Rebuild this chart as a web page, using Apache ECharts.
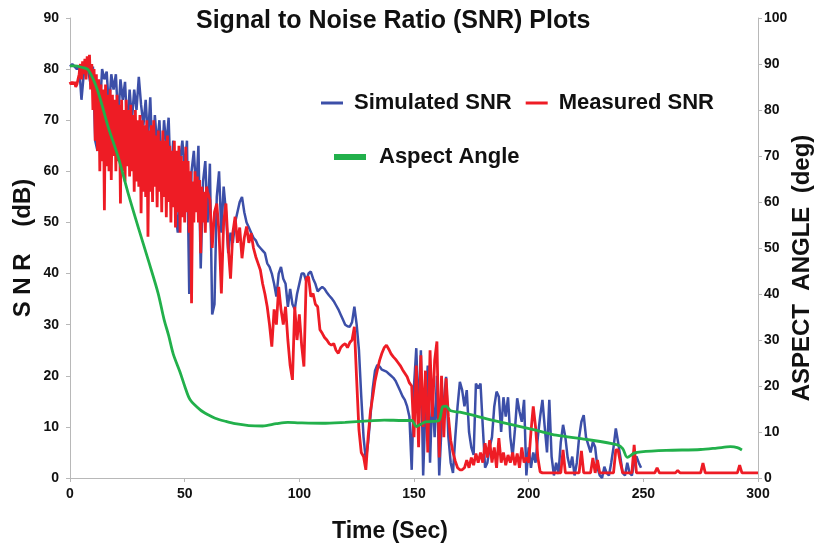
<!DOCTYPE html>
<html>
<head>
<meta charset="utf-8">
<title>SNR Plots</title>
<script src="https://cdn.jsdelivr.net/npm/echarts@6/dist/echarts.min.js"></script>
<style>
  html, body { margin: 0; padding: 0; background: #fff; }
  #chart { width: 818px; height: 550px; }
</style>
</head>
<body>
<div id="chart"></div>
<script>
// simulated SNR (dB), one value per second from t = 0
const simStep = 1
const simulatedSnr = [
  80.5, 81, 80.5, 80, 80.5, 74, 79, 80, 79.5, 77,
  80.5, 66, 64, 72, 80, 78, 79.5, 72, 79, 76,
  79, 70, 78, 74, 77.5, 68, 76, 70, 76, 72,
  78.5, 73, 69, 74, 66, 74.5, 62, 71, 65, 70,
  60, 70, 65, 70.5, 57, 66, 52, 48, 62, 66,
  60, 66, 36, 60, 64, 56, 65, 41, 58, 62,
  50, 61.5, 32, 34, 55, 60, 48, 57, 52, 44,
  48, 46, 50, 52, 54, 55, 52, 50, 49, 48,
  47, 46.5, 45.5, 45, 44.5, 44, 42, 41.3, 40, 38,
  35.5, 40, 41.3, 39, 38, 33.5, 37, 34, 33, 36,
  38, 40, 40, 38.5, 40, 40.4, 39, 38, 36.5, 37,
  37.4, 37, 36.3, 35.7, 35.2, 34.6, 33.8, 33, 32, 31,
  30, 29.7, 29.6, 30.5, 33.5, 30, 25, 16, 8, 3.5,
  7, 12, 17.5, 21, 22.1, 21.8, 21.2, 21, 20.8, 20.4,
  20, 19.6, 19, 18, 17, 16, 15.3, 14, 12, 1.6,
  18, 25.4, 12, 25, 0.5, 14, 22, 3, 17, 8,
  20, 0.5, 10, 15, 19.8, 8, 3, 1, 8, 14,
  18.8, 17.2, 14, 17.2, 9, 6, 4.5, 18.5, 17.5, 18.5,
  10, 2, 3, 6, 8, 14, 16.9, 15.9, 9, 15.8,
  12, 15.8, 8, 4.2, 9.4, 15.6, 13, 11, 15.3, 0.5,
  6, 2, 5, 3, 8, 12, 15.3, 10, 5, 15.3,
  4.2, 0.5, 3, 0.8, 7, 10.4, 8, 4, 2, 4.2,
  0.5, 3, 8, 11, 12.3, 8, 6.5, 5, 7.1, 6,
  2, 0.5, 0, 2.2, 1, 0.5, 3, 6, 9.7, 7,
  4, 1, 0.5, 3, 1, 0.5, 3, 4.2, 3, 2
]

// measured SNR (dB): every half second for the first minute ...
const measStepFine = 0.5
const measuredSnrFine = [
  77.5, 77, 77.5, 77, 77.5, 76.5, 77, 78, 79, 81, 78, 81.5, 79, 82, 78, 82.5, 80, 82.8, 76, 81,
  72, 80, 66, 79, 64, 78, 60, 77, 62, 76, 52.4, 77, 61, 75, 60, 76, 58.3, 75, 63, 74,
  60, 75, 62, 73, 53.7, 74, 60, 72, 58, 74, 61, 72, 59, 73, 60, 71, 56, 72, 58, 70,
  57, 71, 51.8, 70, 56, 69, 55, 70, 47.2, 68, 56, 69, 54, 70, 57, 67, 53, 68, 56, 66,
  52, 68, 55, 66, 51, 67, 54, 65, 50, 64, 53, 66, 49, 64, 52, 65, 48, 63, 51, 62,
  50, 64.8, 52, 62, 48, 60, 34.2, 58, 50, 60, 52, 59, 50, 58.3, 44, 57, 50, 56, 48, 57
]
// ... then once a second from t = 60 s to 300 s
const measStart = 60
const measStep = 1
const measuredSnr = [
  56, 54.4, 45, 52, 53.7, 48, 36.1, 50, 53.7, 45,
  39, 48, 51.1, 46, 49, 43, 47, 49.2, 46, 47.9,
  45, 43.3, 42, 40.7, 38, 36, 33.5, 30, 25.7, 33,
  30, 37.4, 33, 30, 33.5, 27, 22, 19.2, 33.5, 27,
  32, 26, 21.8, 39, 39.4, 35.5, 36.1, 34, 33.5, 29,
  28.3, 27.5, 27, 26.3, 26, 26.3, 25, 24.4, 25.5, 26,
  26.3, 25.5, 26.5, 27, 29.6, 19.2, 9.4, 5, 4.2, 1.6,
  8.1, 13, 15.9, 19, 21.1, 23, 24.4, 25.5, 26, 25.2,
  24.3, 23.7, 23.2, 22.6, 22, 21.2, 20.5, 19.8, 18.6, 18,
  8, 22, 6, 24, 10, 21, 5, 25, 12, 23,
  26.7, 4, 20, 8, 19.5, 12, 7.4, 5, 3.3, 2,
  1.6, 1.6, 2, 3.5, 2, 4, 2.5, 4.8, 3, 5,
  3, 6.8, 4, 7.4, 3, 6, 2, 7.8, 3, 5,
  2.5, 4.5, 3, 5, 2.5, 4.8, 2, 6, 3, 4,
  3, 9, 14, 10, 4, 1.2, 1, 1, 1, 1,
  1, 1, 1, 1, 1, 5.5, 1, 1, 1, 1,
  1, 1, 1, 5.3, 1, 1, 1, 1, 3.9, 1,
  3.5, 1, 1, 1, 1, 1, 1, 1, 5.5, 5.5,
  3, 1, 1, 1, 1, 1, 6.5, 1, 1, 1,
  1, 1, 1, 1, 1, 1, 2, 1, 1, 1,
  1, 1, 1, 1, 1, 1.5, 1, 1, 1, 1,
  1, 1, 1, 1, 1, 1, 2.9, 1, 1, 1,
  1, 1, 1, 1, 1, 1, 1, 1, 1, 1,
  1, 1, 2.5, 1, 1, 1, 1, 1, 1, 1,
  1
]

// aspect angle (deg) against time (s), read at the bends of the curve
const angleTime = [
  0, 2, 5, 8, 12, 16.6, 21, 25.3, 29.7, 34.1,
  38.4, 41, 43, 45, 48, 50, 52.4, 56.8, 60, 63.3,
  68, 72, 78, 84, 90, 95, 100, 110, 120, 130,
  137, 145, 149, 151, 153, 155, 158, 161, 162.5, 164,
  166, 170, 184, 203, 212, 225, 238.7, 241, 243, 246,
  249, 260, 275, 282, 288, 291, 293
]
const aspectAngle = [
  89.6, 89.6, 89.3, 88.7, 84.3, 76.4, 69.8, 62, 54.6, 47.4,
  40.2, 34.5, 31, 27, 23, 20, 17, 14.8, 13.8, 13,
  12.3, 11.8, 11.4, 11.3, 11.8, 12.1, 12, 11.9, 12.1, 12.4,
  12.6, 12.5, 12.5, 11.2, 11.7, 12.2, 12.3, 12.6, 15.5, 15.6,
  14.6, 14.3, 12.6, 10.4, 9.3, 8.4, 7.2, 6.4, 4.5, 5.4,
  5.7, 6, 6.2, 6.5, 6.8, 6.6, 6.1
]

// axis ticks
const timeTicks = { min: 0, max: 300, interval: 50 }
const snrTicks = { min: 0, max: 90, interval: 10 }
const angleTicks = { min: 0, max: 100, interval: 10 }

const toPairs = (values, start, step) => values.map((v, i) => [start + i * step, v])
const measuredPairs = toPairs(measuredSnrFine, 0, measStepFine).concat(toPairs(measuredSnr, measStart, measStep))
const anglePairs = angleTime.map((t, i) => [t, aspectAngle[i]])

const fontFamily = '"Liberation Sans", Arial, sans-serif'
const labelStyle = { color: '#111', fontSize: 14, fontWeight: 'bold', fontFamily }
const nameStyle = { color: '#111', fontWeight: 'bold', fontFamily }
const axisLine = { show: true, lineStyle: { color: '#b8b8b8', width: 1 } }
const axisTick = { show: true, length: 4, lineStyle: { color: '#b8b8b8' } }

const chart = echarts.init(document.getElementById('chart'), null, { renderer: 'canvas' })

chart.setOption({
  animation: false,
  backgroundColor: '#fff',
  title: {
    text: 'Signal to Noise Ratio (SNR) Plots',
    left: 191,
    top: 4,
    textStyle: { color: '#111', fontSize: 25, fontWeight: 'bold', fontFamily },
  },
  legend: [
    {
      data: ['Simulated SNR', 'Measured SNR'],
      left: 316,
      top: 87,
      icon: 'rect',
      itemWidth: 22,
      itemHeight: 3,
      itemGap: 14,
      textStyle: { color: '#111', fontSize: 22, fontWeight: 'bold', fontFamily, padding: [0, 0, 0, 6] },
    },
    {
      data: ['Aspect Angle'],
      left: 329,
      top: 141,
      icon: 'rect',
      itemWidth: 32,
      itemHeight: 6,
      textStyle: { color: '#111', fontSize: 22, fontWeight: 'bold', fontFamily, padding: [0, 0, 0, 8] },
    },
  ],
  // plot box fixed to the reference, do not shrink it for the axis names
  grid: { left: 70, right: 60, top: 18, bottom: 72, outerBoundsMode: 'none' },
  xAxis: {
    type: 'value',
    ...timeTicks,
    name: 'Time (Sec)',
    nameLocation: 'middle',
    nameGap: 42,
    nameTextStyle: { ...nameStyle, fontSize: 23, padding: [0, 48, 0, 0] },
    axisLine,
    axisTick,
    axisLabel: { ...labelStyle, margin: 9 },
    splitLine: { show: false },
  },
  yAxis: [
    {
      type: 'value',
      ...snrTicks,
      name: 'S N R    (dB)',
      nameLocation: 'middle',
      nameGap: 35,
      nameMoveOverlap: false,
      nameTextStyle: { ...nameStyle, fontSize: 24 },
      axisLine,
      axisTick,
      axisLabel: { ...labelStyle, margin: 11 },
      splitLine: { show: false },
    },
    {
      type: 'value',
      ...angleTicks,
      position: 'right',
      name: 'ASPECT  ANGLE  (deg)',
      nameLocation: 'middle',
      nameGap: 32,
      nameMoveOverlap: false,
      // extra room at the end of the name pushes it a little below the middle
      nameTextStyle: { ...nameStyle, fontSize: 24, padding: [0, 40, 0, 0] },
      axisLine,
      axisTick,
      axisLabel: { ...labelStyle, margin: 6 },
      splitLine: { show: false },
    },
  ],
  series: [
    {
      name: 'Simulated SNR',
      type: 'line',
      yAxisIndex: 0,
      data: toPairs(simulatedSnr, 0, simStep),
      symbol: 'none',
      color: '#3c4fa8',
      lineStyle: { width: 2.5, color: '#3c4fa8' },
      z: 2,
    },
    {
      name: 'Measured SNR',
      type: 'line',
      yAxisIndex: 0,
      data: measuredPairs,
      symbol: 'none',
      color: '#ee1c25',
      lineStyle: { width: 2.8, color: '#ee1c25' },
      z: 3,
    },
    {
      name: 'Aspect Angle',
      type: 'line',
      yAxisIndex: 1,
      data: anglePairs,
      symbol: 'none',
      smooth: 0.3,
      color: '#22b04b',
      lineStyle: { width: 2.8, color: '#22b04b' },
      z: 4,
    },
  ],
})
</script>
</body>
</html>
